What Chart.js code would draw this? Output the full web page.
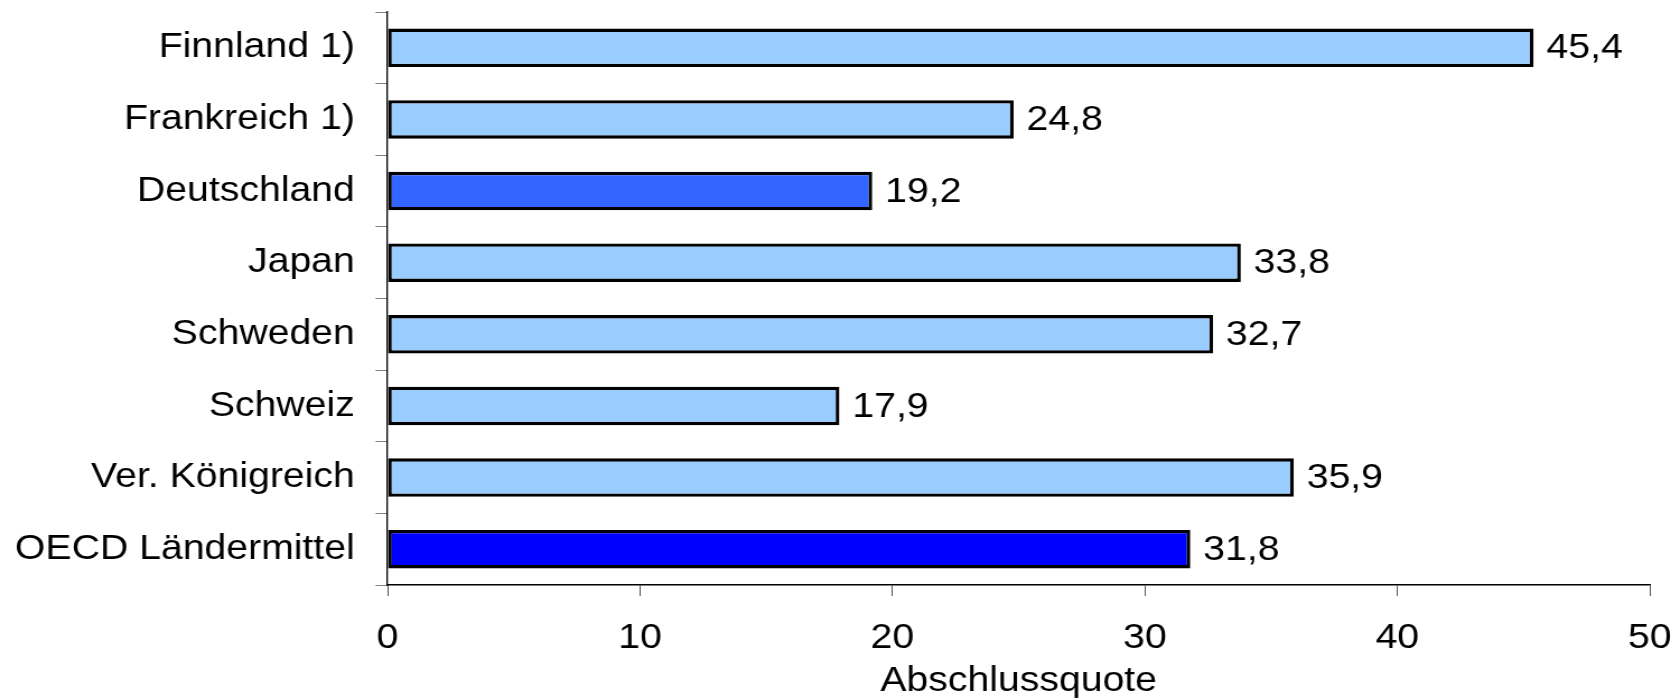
<!DOCTYPE html>
<html>
<head>
<meta charset="utf-8">
<title>Abschlussquote</title>
<script src="https://cdn.jsdelivr.net/npm/chart.js@4.4.1/dist/chart.umd.min.js"></script>
<style>
  html, body { margin: 0; padding: 0; background: #fff; overflow: hidden; }
  /* the original graphic is stretched sideways, so draw narrower and widen */
  canvas { display: block; transform: scaleX(1.12); transform-origin: 0 0; }
</style>
</head>
<body>
<canvas id="quoteChart" width="1499" height="700"></canvas>
<script>
const countries = ['Finnland 1)', 'Frankreich 1)', 'Deutschland', 'Japan', 'Schweden', 'Schweiz', 'Ver. Königreich', 'OECD Ländermittel'];
const quotes = [45.4, 24.8, 19.2, 33.8, 32.7, 17.9, 35.9, 31.8];
const xTicks = [0, 10, 20, 30, 40, 50];

const barColors = ['#99CCFF', '#99CCFF', '#3366FF', '#99CCFF', '#99CCFF', '#99CCFF', '#99CCFF', '#0000FF'];
const fontFamily = '"Liberation Sans", Arial, sans-serif';
const fontSize = 35;

// draws the numbers right of each bar, German decimal comma
const valueLabels = {
    id: 'valueLabels',
    afterDatasetsDraw(chart) {
        const ctx = chart.ctx;
        const meta = chart.getDatasetMeta(0);
        ctx.save();
        ctx.font = `${fontSize}px ${fontFamily}`;
        ctx.fillStyle = '#000';
        ctx.textAlign = 'left';
        ctx.textBaseline = 'middle';
        meta.data.forEach((bar, i) => {
            const text = quotes[i].toFixed(1).replace('.', ',');
            ctx.fillText(text, bar.x + 11.5, bar.y + 1);
        });
        ctx.restore();
    }
};

const ctx = document.getElementById('quoteChart').getContext('2d');

new Chart(ctx, {
    type: 'bar',
    data: {
        labels: countries,
        datasets: [{
            data: quotes,
            backgroundColor: barColors,
            borderColor: '#000',
            borderWidth: 3.3,
            borderSkipped: false,
            categoryPercentage: 1,
            barPercentage: 0.536
        }]
    },
    options: {
        indexAxis: 'y',
        responsive: false,
        animation: false,
        layout: {
            padding: { top: 12, right: 26, left: 0, bottom: 0 }
        },
        plugins: {
            legend: { display: false },
            tooltip: { enabled: false }
        },
        scales: {
            x: {
                min: 0,
                max: 50,
                afterBuildTicks: (scale) => {
                    scale.ticks = xTicks.map(v => ({ value: v }));
                },
                afterFit: (scale) => {
                    scale.height = 115;
                    scale.paddingLeft = 0;
                    scale.paddingRight = 0;
                },
                border: { display: true, color: '#000', width: 1.5 },
                grid: {
                    drawOnChartArea: false,
                    drawTicks: true,
                    tickLength: 11,
                    color: '#555'
                },
                ticks: {
                    color: '#000',
                    padding: 21,
                    font: { family: fontFamily, size: fontSize }
                },
                title: {
                    display: true,
                    text: 'Abschlussquote',
                    color: '#000',
                    padding: { top: 0, bottom: 0 },
                    font: { family: fontFamily, size: fontSize, lineHeight: 1.05 }
                }
            },
            y: {
                afterFit: (scale) => {
                    scale.width = 346;
                    scale.paddingTop = 0;
                    scale.paddingBottom = 0;
                },
                border: { display: true, color: '#000', width: 1.3 },
                grid: {
                    drawOnChartArea: false,
                    drawTicks: true,
                    tickLength: 10.7,
                    color: '#808080'
                },
                ticks: {
                    color: '#000',
                    padding: 18.5,
                    font: { family: fontFamily, size: fontSize }
                }
            }
        }
    },
    plugins: [valueLabels]
});
</script>
</body>
</html>
